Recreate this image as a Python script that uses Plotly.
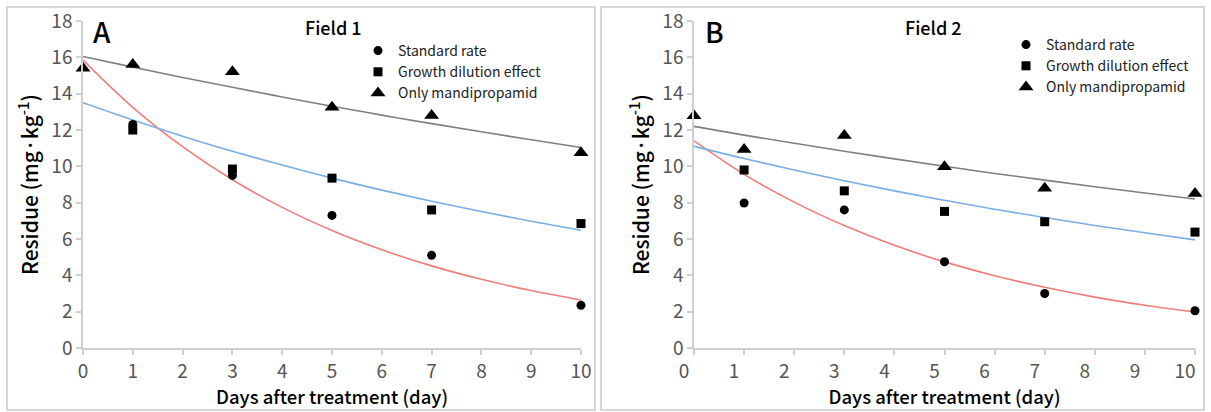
import plotly.graph_objects as go

# ---------------- data ----------------
days = [0, 1, 3, 5, 7, 10]
curve_days = [0, 1, 2, 3, 4, 5, 6, 7, 8, 9, 10]

# Field 1 (panel A)
f1_standard = [None, 12.3, 9.5, 7.3, 5.1, 2.35]
f1_dilution = [None, 12.0, 9.85, 9.35, 7.6, 6.85]
f1_mandi = [15.4, 15.6, 15.2, 13.25, 12.8, 10.75]
f1_fit_standard = [15.85, 13.25, 11.08, 9.26, 7.74, 6.47, 5.41, 4.52, 3.78, 3.16, 2.64]
f1_fit_dilution = [13.5, 12.55, 11.66, 10.83, 10.07, 9.35, 8.69, 8.08, 7.51, 6.98, 6.48]
f1_fit_mandi = [16.05, 15.46, 14.89, 14.35, 13.82, 13.31, 12.82, 12.35, 11.90, 11.46, 11.04]

# Field 2 (panel B)
f2_standard = [None, 7.98, 7.6, 4.75, 3.0, 2.05]
f2_dilution = [None, 9.8, 8.65, 7.52, 6.95, 6.38]
f2_mandi = [12.78, 10.92, 11.7, 9.98, 8.8, 8.5]
f2_fit_standard = [11.4, 9.56, 8.03, 6.74, 5.65, 4.74, 3.98, 3.34, 2.80, 2.35, 1.97]
f2_fit_dilution = [11.1, 10.43, 9.80, 9.21, 8.65, 8.13, 7.64, 7.18, 6.74, 6.34, 5.95]
f2_fit_mandi = [12.2, 11.72, 11.27, 10.83, 10.41, 10.0, 9.61, 9.24, 8.88, 8.53, 8.2]

series_names = ["Standard rate", "Growth dilution effect", "Only mandipropamid"]
x_ticks = list(range(0, 11))
y_ticks = list(range(0, 19, 2))

# ---------------- styling ----------------
FONT = "Noto Sans CJK KR"
W, H = 1211, 412
fit_colors = ["#f07c7c", "#78aee4", "#7f7f7f"]
symbols = ["circle", "square", "triangle-up"]
msizes = [9, 9, 13]
axis_col = "#cfcfcf"

fig = go.Figure()

panels = [
    ("x", "y", "legend", [f1_standard, f1_dilution, f1_mandi],
     [f1_fit_standard, f1_fit_dilution, f1_fit_mandi]),
    ("x2", "y2", "legend2", [f2_standard, f2_dilution, f2_mandi],
     [f2_fit_standard, f2_fit_dilution, f2_fit_mandi]),
]

for xa, ya, lg, pts, fits in panels:
    for i in range(3):
        fig.add_trace(go.Scatter(
            x=curve_days, y=fits[i], mode="lines", line=dict(color=fit_colors[i], width=1.6, shape="spline"),
            xaxis=xa, yaxis=ya, showlegend=False, hoverinfo="skip"))
    for i in range(3):
        fig.add_trace(go.Scatter(
            x=days, y=pts[i], mode="markers", name=series_names[i],
            marker=dict(symbol=symbols[i], size=msizes[i], color="black"),
            xaxis=xa, yaxis=ya, legend=lg, cliponaxis=False))

def px(v):
    return v / W

def py(v):
    return (H - v) / H

ydom = [py(348), py(21)]

axis_common = dict(
    showline=True, linecolor=axis_col, linewidth=1.5, ticks="outside", ticklen=5,
    tickcolor=axis_col, tickwidth=1.5, showgrid=False, zeroline=False, automargin=False,
    tickfont=dict(family=FONT, size=19, color="#555555"),
)

xt = dict(text="Days after treatment (day)", font=dict(family=FONT, size=18.5, color="black", weight=500), standoff=4)
yt = dict(text="Residue (mg·kg<sup>-1</sup>)", font=dict(family=FONT, size=21, color="black", weight=500), standoff=7)

fig.update_layout(
    width=W, height=H,
    margin=dict(l=0, r=0, t=0, b=0, autoexpand=False),
    paper_bgcolor="white", plot_bgcolor="white",
    xaxis=dict(domain=[px(83), px(581)], range=[0, 10], tickvals=x_ticks, anchor="y", title=xt, **axis_common),
    yaxis=dict(domain=ydom, range=[0, 18], tickvals=y_ticks, anchor="x", title=yt, **axis_common),
    xaxis2=dict(domain=[px(694), px(1195)], range=[0, 10], tickvals=x_ticks, anchor="y2", title=xt,
                ticklabelshift=-10, **axis_common),
    yaxis2=dict(domain=ydom, range=[0, 18], tickvals=y_ticks, anchor="x2", title=yt, **axis_common),
    legend=dict(x=px(358), y=py(35), xanchor="left", yanchor="top", bgcolor="rgba(0,0,0,0)",
                font=dict(family=FONT, size=14, color="#222222"), itemwidth=30, tracegroupgap=0),
    legend2=dict(x=px(1006), y=py(29), xanchor="left", yanchor="top", bgcolor="rgba(0,0,0,0)",
                 font=dict(family=FONT, size=14, color="#222222"), itemwidth=30, tracegroupgap=0),
    showlegend=True,
)

# panel frames
fig.add_shape(type="rect", xref="paper", yref="paper", x0=px(7), x1=px(595), y0=py(410), y1=py(7),
              line=dict(color="#d6d6d6", width=2), layer="below")
fig.add_shape(type="rect", xref="paper", yref="paper", x0=px(601), x1=px(1204), y0=py(410), y1=py(7),
              line=dict(color="#d6d6d6", width=2), layer="below")

# panel letters and titles
for txt, xpos, ypos, size in [("A", 102, 31, 28), ("B", 714, 31, 28)]:
    fig.add_annotation(text=txt, x=px(xpos), y=py(ypos), xref="paper", yref="paper", showarrow=False,
                       xanchor="center", yanchor="middle",
                       font=dict(family=FONT, size=size, color="black", weight=500))
for txt, xpos in [("Field 1", 333), ("Field 2", 933)]:
    fig.add_annotation(text=txt, x=px(xpos), y=py(27), xref="paper", yref="paper", showarrow=False,
                       xanchor="center", yanchor="middle",
                       font=dict(family=FONT, size=18, color="black", weight=500))

fig.write_html("out.html", config={"displayModeBar": False},
               post_script="document.body.style.margin='0';")
